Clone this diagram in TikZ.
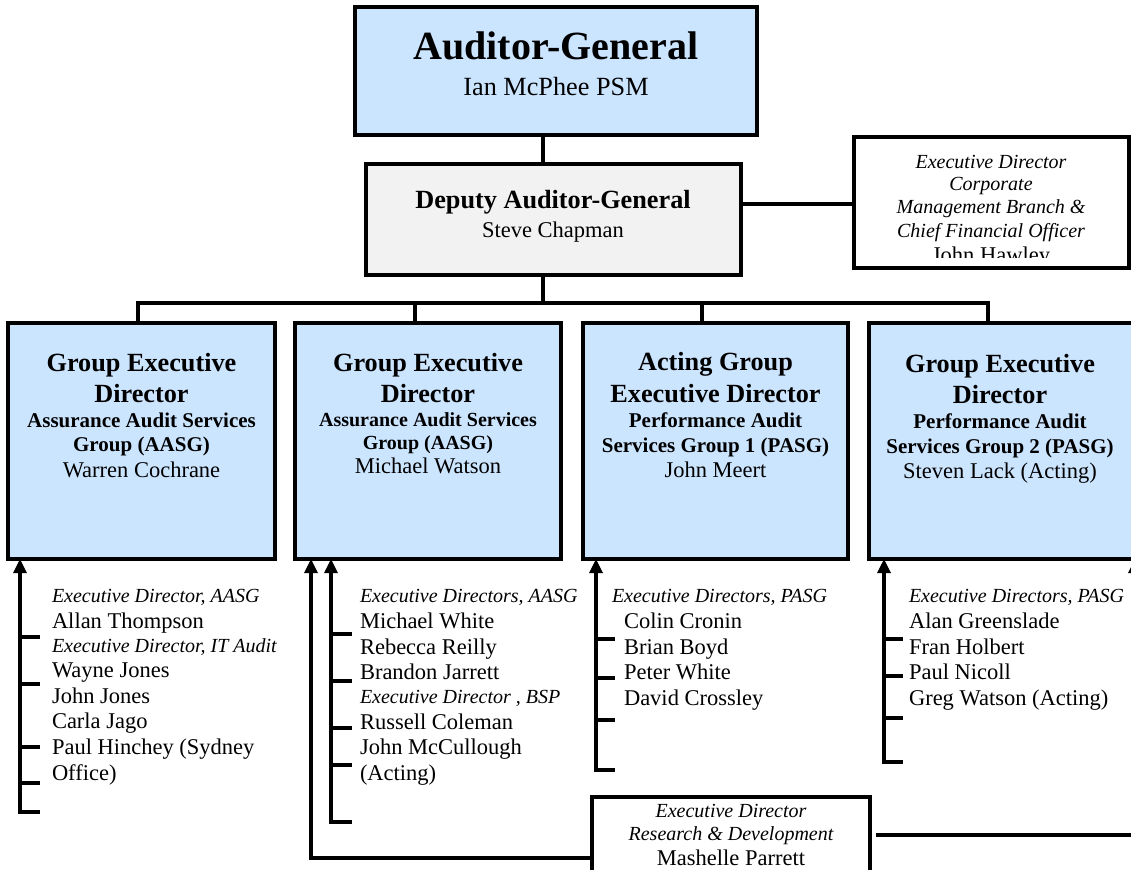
\documentclass[tikz,border=0pt]{standalone}
\usepackage{fontspec}
\setmainfont{Liberation Serif}
\usetikzlibrary{arrows.meta}

\definecolor{boxblue}{RGB}{204,229,255}
\definecolor{boxgrey}{RGB}{242,242,242}

% type sizes (1 unit = 1pt)
\newcommand\fsTitle{\fontsize{40}{46}\selectfont\bfseries}
\newcommand\fsHead{\fontsize{26.25}{30}\selectfont\bfseries}
\newcommand\fsBigName{\fontsize{26.25}{30}\selectfont}
\newcommand\fsSub{\fontsize{21}{24}\selectfont\bfseries}
\newcommand\fsSubS{\fontsize{20}{23}\selectfont\bfseries}
\newcommand\fsName{\fontsize{22.5}{26}\selectfont}
\newcommand\fsRole{\fontsize{20}{23}\selectfont\itshape}

\begin{document}
\begin{tikzpicture}[x=1pt,y=-1pt,
  frame/.style={draw=black, line width=3.2pt, anchor=north west,
                inner sep=0pt, outer sep=0pt},
  bluebox/.style={frame, fill=boxblue},
  greybox/.style={frame, fill=boxgrey},
  whitebox/.style={frame, fill=white},
  ln/.style={anchor=base, inner sep=0pt, outer sep=0pt},
  lst/.style={anchor=base west, inner sep=0pt, outer sep=0pt},
  wire/.style={line width=3.2pt, line cap=butt, line join=miter},
  up/.style={wire, -{Triangle[width=13pt,length=14pt]}},
]
\useasboundingbox (0,0) rectangle (1131,869);

% ---------- boxes ----------
\node[bluebox, minimum width=402pt, minimum height=128pt] (ag)  at (355,7)   {};
\node[greybox, minimum width=375pt, minimum height=111pt] (dag) at (366,164) {};
\node[whitebox, minimum width=275pt, minimum height=131pt] (cfo) at (854,137) {};
\node[bluebox, minimum width=267pt, minimum height=236pt] (g1) at (8,323)   {};
\node[bluebox, minimum width=266pt, minimum height=236pt] (g2) at (295,323) {};
\node[bluebox, minimum width=265pt, minimum height=236pt] (g3) at (583,323) {};
\node[bluebox, minimum width=267pt, minimum height=236pt] (g4) at (869,323) {};
\node[whitebox, minimum width=278pt, minimum height=100pt] (rd) at (592,797) {};

% ---------- box texts ----------
\node[ln, font=\fsTitle]   (ag-t) at (556,60) {Auditor-General};
\node[ln, font=\fsBigName] (ag-n) at (556,96) {Ian McPhee PSM};

\node[ln, font=\fsHead] (dag-t) at (553,208) {Deputy Auditor-General};
\node[ln, font=\fsName] (dag-n) at (553,237) {Steve Chapman};

\node[ln, font=\fsRole] (cfo-1) at (991,168) {Executive Director};
\node[ln, font=\fsRole] (cfo-2) at (991,190) {Corporate};
\node[ln, font=\fsRole] (cfo-3) at (991,213) {Management Branch \&};
\node[ln, font=\fsRole] (cfo-4) at (991,237) {Chief Financial Officer};
\begin{scope}
  \clip (854,137) rectangle (1129,257);
  \node[ln, font=\fsName] (cfo-n) at (991,262) {John Hawley};
\end{scope}

\node[ln, font=\fsHead] (g1-1) at (141.5,371) {Group Executive};
\node[ln, font=\fsHead] (g1-2) at (141.5,402) {Director};
\node[ln, font=\fsSub]  (g1-3) at (141.5,427) {Assurance Audit Services};
\node[ln, font=\fsSub]  (g1-4) at (141.5,451) {Group (AASG)};
\node[ln, font=\fsName] (g1-n) at (141.5,477) {Warren Cochrane};

\node[ln, font=\fsHead] (g2-1) at (428,371) {Group Executive};
\node[ln, font=\fsHead] (g2-2) at (428,402) {Director};
\node[ln, font=\fsSubS] (g2-3) at (428,426) {Assurance Audit Services};
\node[ln, font=\fsSubS] (g2-4) at (428,449) {Group (AASG)};
\node[ln, font=\fsName] (g2-n) at (428,473) {Michael Watson};

\node[ln, font=\fsHead] (g3-1) at (715.5,370) {Acting Group};
\node[ln, font=\fsHead] (g3-2) at (715.5,402) {Executive Director};
\node[ln, font=\fsSub]  (g3-3) at (715.5,427) {Performance Audit};
\node[ln, font=\fsSub]  (g3-4) at (715.5,452) {Services Group 1 (PASG)};
\node[ln, font=\fsName] (g3-n) at (715.5,477) {John Meert};

\node[ln, font=\fsHead] (g4-1) at (1000,372) {Group Executive};
\node[ln, font=\fsHead] (g4-2) at (1000,403) {Director};
\node[ln, font=\fsSub]  (g4-3) at (1000,428) {Performance Audit};
\node[ln, font=\fsSub]  (g4-4) at (1000,453) {Services Group 2 (PASG)};
\node[ln, font=\fsName] (g4-n) at (1000,478) {Steven Lack (Acting)};

\node[ln, font=\fsRole] (rd-1) at (731,817) {Executive Director};
\node[ln, font=\fsRole] (rd-2) at (731,840) {Research \& Development};
\node[ln, font=\fsName] (rd-n) at (731,865) {Mashelle Parrett};

% ---------- lists under the groups ----------
\node[lst, font=\fsRole] (l1-a) at (52,602) {Executive Director, AASG};
\node[lst, font=\fsName] (l1-b) at (52,628) {Allan Thompson};
\node[lst, font=\fsRole] (l1-c) at (52,652) {Executive Director, IT Audit};
\node[lst, font=\fsName] (l1-d) at (52,677) {Wayne Jones};
\node[lst, font=\fsName] (l1-e) at (52,703) {John Jones};
\node[lst, font=\fsName] (l1-f) at (52,728) {Carla Jago};
\node[lst, font=\fsName] (l1-g) at (52,754) {Paul Hinchey (Sydney};
\node[lst, font=\fsName] (l1-h) at (52,780) {Office)};

\node[lst, font=\fsRole] (l2-a) at (360,602) {Executive Directors, AASG};
\node[lst, font=\fsName] (l2-b) at (360,628) {Michael White};
\node[lst, font=\fsName] (l2-c) at (360,654) {Rebecca Reilly};
\node[lst, font=\fsName] (l2-d) at (360,679) {Brandon Jarrett};
\node[lst, font=\fsRole] (l2-e) at (360,703) {Executive Director , BSP};
\node[lst, font=\fsName] (l2-f) at (360,729) {Russell Coleman};
\node[lst, font=\fsName] (l2-g) at (360,754) {John McCullough};
\node[lst, font=\fsName] (l2-h) at (360,780) {(Acting)};

\node[lst, font=\fsRole] (l3-a) at (612,602) {Executive Directors, PASG};
\node[lst, font=\fsName] (l3-b) at (624,628) {Colin Cronin};
\node[lst, font=\fsName] (l3-c) at (624,654) {Brian Boyd};
\node[lst, font=\fsName] (l3-d) at (624,679) {Peter White};
\node[lst, font=\fsName] (l3-e) at (624,705) {David Crossley};

\node[lst, font=\fsRole] (l4-a) at (909,602) {Executive Directors, PASG};
\node[lst, font=\fsName] (l4-b) at (909,628) {Alan Greenslade};
\node[lst, font=\fsName] (l4-c) at (909,654) {Fran Holbert};
\node[lst, font=\fsName] (l4-d) at (909,679) {Paul Nicoll};
\node[lst, font=\fsName] (l4-e) at (909,705) {Greg Watson (Acting)};

% ---------- reporting lines ----------
\coordinate (trunk) at (543,303);
\coordinate (k1) at (138,0);
\coordinate (k2) at (415,0);
\coordinate (k3) at (702,0);
\coordinate (k4) at (988,0);

\draw[wire] (ag.south -| trunk) -- (dag.north -| trunk);
\draw[wire] (dag.east |- 0,204) -- (cfo.west |- 0,204);
\draw[wire] (dag.south -| trunk) -- (trunk);
\draw[wire] (g1.north -| k1) |- (trunk) -| (g4.north -| k4);
\draw[wire] (g2.north -| k2) -- (trunk -| k2);
\draw[wire] (g3.north -| k3) -- (trunk -| k3);

% group 1 bracket
\coordinate (s1) at (20,812);
\draw[up] (40,812) -- (s1) -- (g1.south -| s1);
\foreach \y in {637,684,747,783} \draw[wire] (20,\y) -- ++(20,0);

% group 2 bracket and research link
\coordinate (s2) at (331,822);
\draw[up] (352,822) -- (s2) -- (g2.south -| s2);
\foreach \y in {634,681,728,765} \draw[wire] (331,\y) -- ++(21,0);
\coordinate (s2o) at (311,858);
\draw[up] (rd.west |- s2o) -- (s2o) -- (g2.south -| s2o);

% group 3 bracket
\coordinate (s3) at (596,770);
\draw[up] (615,770) -- (s3) -- (g3.south -| s3);
\foreach \y in {639,678,720} \draw[wire] (596,\y) -- ++(19,0);

% group 4 bracket
\coordinate (s4) at (884,762);
\draw[up] (903,762) -- (s4) -- (g4.south -| s4);
\foreach \y in {639,676,718} \draw[wire] (884,\y) -- ++(19,0);

% next column, off the edge
\coordinate (s5) at (1135,620);
\draw[up] (s5) -- (g4.south -| s5);

% research line running right
\coordinate (rdr) at (1140,835);
\draw[wire] (876,835) -- (rdr);
\end{tikzpicture}
\end{document}
